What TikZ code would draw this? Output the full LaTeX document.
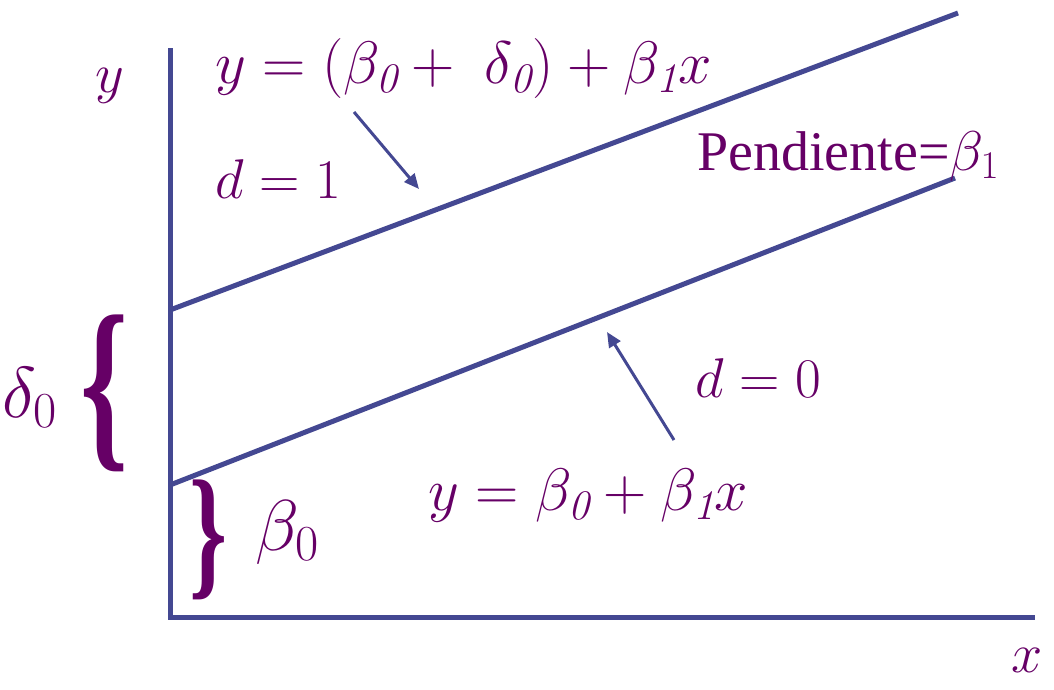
\RequirePackage{fix-cm}
\documentclass[tikz,border=0pt]{standalone}
\usepackage{fontspec}
\newfontfamily\timesfont{Liberation Serif}
\usepackage{graphicx}
\usetikzlibrary{arrows.meta}
\definecolor{axisblue}{RGB}{68,72,146}
\definecolor{labelpurple}{RGB}{102,0,102}
\newcommand{\isub}[1]{_{\mathit{#1}}}
\tikzset{
  axisline/.style={draw=axisblue, line width=5pt},
  pointer/.style={draw=axisblue, line width=3pt, -{Triangle[length=15pt,width=13pt]}},
  mathlabel/.style={text=labelpurple, inner sep=0pt, font=\fontsize{56}{64}\selectfont},
  eqlabel/.style={text=labelpurple, inner sep=0pt, font=\fontsize{60}{64}\selectfont},
  bracelabel/.style={text=labelpurple, inner sep=0pt, font=\fontsize{60}{60}\timesfont\bfseries},
}
\begin{document}
\begin{tikzpicture}[x=1pt, y=-1pt]
  \useasboundingbox (0,0) rectangle (1054,689);
  % axes
  \coordinate (ytop) at (170,48);
  \coordinate (origin) at (170,617);
  \coordinate (xend) at (1035,617);
  \draw[axisline] (ytop) -- (origin) -- (xend);
  % the two parallel lines
  \coordinate (upstart) at (170,310);
  \coordinate (upend) at (958,13);
  \coordinate (lowstart) at (170,485);
  \coordinate (lowend) at (955,178);
  \draw[axisline] (upstart) -- (upend);
  \draw[axisline] (lowstart) -- (lowend);
  % labels
  \node[mathlabel, anchor=base west] (ylab) at (95,92) {$y$};
  \node[mathlabel, anchor=base west] (xlab) at (1011,672) {$x$};
  \node[eqlabel, anchor=base west] (eqone) at (215,83)
    {$y = (\beta\isub{0} + \;\delta\isub{0}) + \beta\isub{1}x$};
  \node[mathlabel, anchor=base west] (done) at (215,198) {$d = 1$};
  \node[mathlabel, anchor=base west] (slope) at (697,170)
    {{\timesfont Pendiente=}$\beta_1$};
  \node[mathlabel, anchor=base west] (dzero) at (695,397) {$d = 0$};
  \node[eqlabel, anchor=base west] (eqzero) at (428,510)
    {$y = \beta\isub{0} + \beta\isub{1}x$};
  % braces
  \node[mathlabel, anchor=base west, font=\fontsize{72}{72}\selectfont] (deltalab) at (2,417) {$\delta_0$};
  \node[bracelabel, anchor=west] (deltabrace) at (80,393)
    {\resizebox*{48pt}{157pt}{\{}};
  \node[bracelabel, anchor=east] (betabrace) at (228,540)
    {\resizebox*{38pt}{120pt}{\}}};
  \node[mathlabel, anchor=base west, font=\fontsize{72}{72}\selectfont] (betalab) at (255,550) {$\beta_0$};
  % pointers
  \coordinate (ponestart) at (354,112);
  \coordinate (poneend) at (419,189);
  \coordinate (pzerostart) at (674,440);
  \coordinate (pzeroend) at (607,332);
  \draw[pointer] (ponestart) -- (poneend);
  \draw[pointer] (pzerostart) -- (pzeroend);
\end{tikzpicture}
\end{document}
